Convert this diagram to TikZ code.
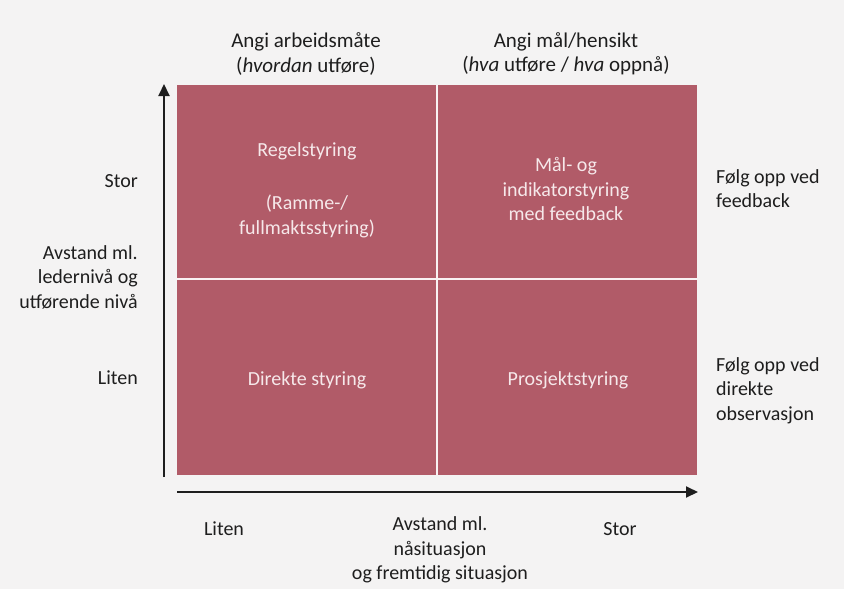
\documentclass[tikz,border=0pt]{standalone}
\usepackage{fontspec}
\setmainfont{Carlito}
\usetikzlibrary{arrows.meta}
\definecolor{paper}{RGB}{244,243,243}
\definecolor{cellred}{RGB}{177,91,104}
\definecolor{celltext}{RGB}{246,232,234}
\definecolor{ink}{RGB}{30,30,30}
\tikzset{
  lbl/.style={font=\fontsize{20}{24.5}\selectfont, text=ink, align=center, inner sep=0pt},
  headlbl/.style={lbl, font=\fontsize{21}{24.5}\selectfont},
  lblleft/.style={lbl, align=left, anchor=north west},
  lblright/.style={lbl, align=right, anchor=east},
  celllbl/.style={lbl, text=celltext},
  axis/.style={line width=2pt, draw=ink, -{Triangle[length=12pt,width=11pt]}},
  divider/.style={line width=1.8pt, draw=white!92!cellred},
}
\begin{document}
\begin{tikzpicture}[x=1pt,y=-1pt]
  \fill[paper] (0,0) rectangle (844,589);
  \useasboundingbox (0,0) rectangle (844,589);

  % the four cells as one filled field
  \fill[cellred] (177,85) rectangle (697,475);
  \coordinate (topmid) at (437,85);
  \coordinate (botmid) at (437,475);
  \coordinate (leftmid) at (177,279);
  \coordinate (rightmid) at (697,279);
  \draw[divider] (topmid) -- (botmid);
  \draw[divider] (leftmid) -- (rightmid);

  % axes
  \coordinate (yfrom) at (164,477);
  \coordinate (yto) at (164,84);
  \coordinate (xfrom) at (177,492);
  \coordinate (xto) at (698,492);
  \draw[axis] (yfrom) -- (yto);
  \draw[axis] (xfrom) -- (xto);

  % column headings
  \node[headlbl] (colA) at (306,54) {Angi arbeidsmåte\\(\textit{hvordan} utføre)};
  \node[headlbl] (colB) at (566,54) {Angi mål/hensikt\\(\textit{hva} utføre / \textit{hva} oppnå)};

  % cell texts
  \node[celllbl] (regel) at (307,190) {Regelstyring\\[29pt](Ramme-/\\fullmaktsstyring)};
  \node[celllbl] (maal) at (566,189) {Mål- og\\indikatorstyring\\med feedback};
  \node[celllbl] (direkte) at (307,380) {Direkte styring};
  \node[celllbl] (prosjekt) at (568,380) {Prosjektstyring};

  % vertical axis labels
  \node[lblright] (ystor) at (138,181) {Stor};
  \node[lblright] (yname) at (138,277) {Avstand ml.\\ledernivå og\\utførende nivå};
  \node[lblright] (yliten) at (138,378) {Liten};

  % right-hand notes
  \node[lblleft] (noteA) at (716,169) {Følg opp ved\\feedback};
  \node[lblleft] (noteB) at (716,357) {Følg opp ved\\direkte\\observasjon};

  % horizontal axis labels
  \node[lbl] (xliten) at (224,529) {Liten};
  \node[lbl] (xstor) at (620,529) {Stor};
  \node[lbl] (xname) at (440,550) {Avstand ml.\\nåsituasjon\\og fremtidig situasjon};
\end{tikzpicture}
\end{document}
